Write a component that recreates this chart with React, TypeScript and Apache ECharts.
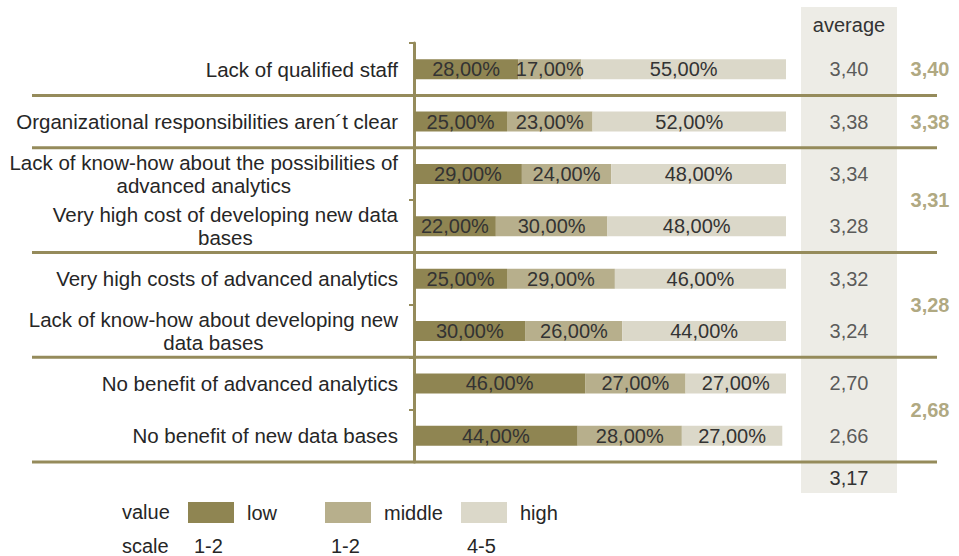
import React, { useEffect, useRef } from 'react';
import * as echarts from 'echarts';

const categories = [
  'Lack of qualified staff',
  'Organizational responsibilities aren´t clear',
  'Lack of know-how about the possibilities of\nadvanced analytics',
  'Very high cost of developing new data\nbases',
  'Very high costs of advanced analytics',
  'Lack of know-how about developing new\ndata bases',
  'No benefit of advanced analytics',
  'No benefit of new data bases',
];
const lowValues = [28, 25, 29, 22, 25, 30, 46, 44];
const middleValues = [17, 23, 24, 30, 29, 26, 27, 28];
const highValues = [55, 52, 48, 48, 46, 44, 27, 27];
const averages = [3.4, 3.38, 3.34, 3.28, 3.32, 3.24, 2.7, 2.66];
const groups = [[0], [1], [2, 3], [4, 5], [6, 7]];
const groupAverages = [3.4, 3.38, 3.31, 3.28, 2.68];
const totalAverage = 3.17;
const seriesNames = ['low', 'middle', 'high'];
const scaleLabels = ['1-2', '1-2', '4-5'];
const averageHeader = 'average';

const FONT = "'Liberation Sans', Arial, sans-serif";
const OLIVE = '#958B5B';
const COLORS = ['#8F8552', '#B7AF8C', '#DBD8C9'];
const TEXT = '#262626';
const FS = 20;

const fmt = (v: number) => v.toFixed(2).replace('.', ',');

export default function App() {
  const ref = useRef<HTMLDivElement>(null);
  useEffect(() => {
    if (!ref.current) return;
    const chart = echarts.init(ref.current, undefined, { renderer: 'svg' });
    const valueSets = [lowValues, middleValues, highValues];
    const legendLefts = [188, 325, 461];

    const barSeries = seriesNames.map((name, i) => ({
      name,
      type: 'bar',
      stack: 'total',
      xAxisIndex: 0,
      yAxisIndex: 0,
      barWidth: 20,
      itemStyle: { color: COLORS[i] },
      label: {
        show: true,
        position: 'inside',
        formatter: (p: any) => fmt(p.value) + '%',
        fontSize: FS,
        color: '#333333',
        fontFamily: FONT,
      },
      data: valueSets[i],
    }));

    const boundaries = groups.map((g) => g[g.length - 1] + 0.5);

    const option: any = {
      animation: false,
      textStyle: { fontFamily: FONT },
      graphic: [
        {
          type: 'rect',
          z: 0,
          shape: { x: 801, y: 7, width: 96, height: 486 },
          style: { fill: '#EDECE6' },
        },
        {
          type: 'text',
          z: 5,
          x: 849,
          y: 25,
          style: { text: averageHeader, fontSize: FS, fill: '#333333', align: 'center', verticalAlign: 'middle', fontFamily: FONT },
        },
        {
          type: 'text',
          z: 5,
          x: 849,
          y: 478,
          style: { text: fmt(totalAverage), fontSize: FS, fill: '#333333', align: 'center', verticalAlign: 'middle', fontFamily: FONT },
        },
        {
          type: 'text',
          x: 122,
          y: 512,
          style: { text: 'value', fontSize: FS, fill: TEXT, align: 'left', verticalAlign: 'middle', fontFamily: FONT },
        },
        {
          type: 'text',
          x: 122,
          y: 546,
          style: { text: 'scale', fontSize: FS, fill: TEXT, align: 'left', verticalAlign: 'middle', fontFamily: FONT },
        },
        ...scaleLabels.map((s, i) => ({
          type: 'text',
          x: legendLefts[i] + 6,
          y: 546,
          style: { text: s, fontSize: FS, fill: TEXT, align: 'left', verticalAlign: 'middle', fontFamily: FONT },
        })),
      ],
      legend: seriesNames.map((name, i) => ({
        data: [name],
        left: legendLefts[i],
        top: 502,
        padding: 0,
        icon: 'rect',
        itemWidth: 46,
        itemHeight: 21,
        selectedMode: false,
        textStyle: { fontSize: FS, color: TEXT, fontFamily: FONT, padding: [0, 0, 0, 8] },
      })),
      grid: [
        { left: 414, width: 372, top: 43, height: 419 },
        { left: 801, width: 96, top: 43, height: 419 },
        { left: 32, width: 905, top: 43, height: 419 },
      ],
      xAxis: [
        { type: 'value', gridIndex: 0, min: 0, max: 100, show: false },
        { type: 'value', gridIndex: 1, min: 0, max: 1, show: false },
        { type: 'value', gridIndex: 2, min: 0, max: 1, show: false },
      ],
      yAxis: [
        {
          type: 'category',
          gridIndex: 0,
          data: categories,
          inverse: true,
          axisLine: { show: true, lineStyle: { color: OLIVE, width: 3 } },
          axisTick: { show: true, length: 5, lineStyle: { color: OLIVE, width: 2 } },
          axisLabel: {
            interval: 0,
            margin: 16,
            fontSize: 20.5,
            color: TEXT,
            fontFamily: FONT,
            lineHeight: 23,
            formatter: (v: string) =>
              v.includes('\n') ? v.split('\n').map((l) => `{c|${l}}`).join('\n') : v,
            rich: {
              c: { align: 'center', fontSize: 20.5, color: TEXT, fontFamily: FONT, lineHeight: 23 },
            },
          },
        },
        { type: 'value', gridIndex: 1, min: -0.5, max: 7.5, inverse: true, show: false },
        { type: 'value', gridIndex: 2, min: -0.5, max: 7.5, inverse: true, show: false },
      ],
      series: [
        ...barSeries,
        {
          type: 'custom',
          xAxisIndex: 2,
          yAxisIndex: 2,
          z: 3,
          data: boundaries.map((b) => [0, b]),
          renderItem: (_params: any, api: any) => {
            const y = api.value(1);
            const p1 = api.coord([0, y]);
            const p2 = api.coord([1, y]);
            return {
              type: 'line',
              shape: { x1: p1[0], y1: p1[1], x2: p2[0], y2: p2[1] },
              style: { stroke: OLIVE, lineWidth: 3 },
            };
          },
        },
        {
          type: 'scatter',
          xAxisIndex: 1,
          yAxisIndex: 1,
          symbolSize: 1,
          itemStyle: { color: 'transparent' },
          label: {
            show: true,
            position: 'inside',
            formatter: (p: any) => fmt(p.value[2]),
            fontSize: FS,
            color: '#333333',
            fontFamily: FONT,
          },
          data: averages.map((v, i) => [0.5, i, v]),
        },
        {
          type: 'scatter',
          xAxisIndex: 2,
          yAxisIndex: 2,
          symbolSize: 1,
          itemStyle: { color: 'transparent' },
          label: {
            show: true,
            position: 'inside',
            offset: [-7, 0],
            formatter: (p: any) => fmt(p.value[2]),
            fontSize: FS,
            fontWeight: 'bold',
            color: '#9B915F',
            fontFamily: FONT,
          },
          data: groups.map((g, i) => [1, g.reduce((a, b) => a + b, 0) / g.length, groupAverages[i]]),
        },
      ],
    };
    chart.setOption(option);
    return () => chart.dispose();
  }, []);
  return (
    <div
      ref={ref}
      style={{ position: 'fixed', left: 0, top: 0, width: 959, height: 556, background: '#ffffff' }}
    />
  );
}
